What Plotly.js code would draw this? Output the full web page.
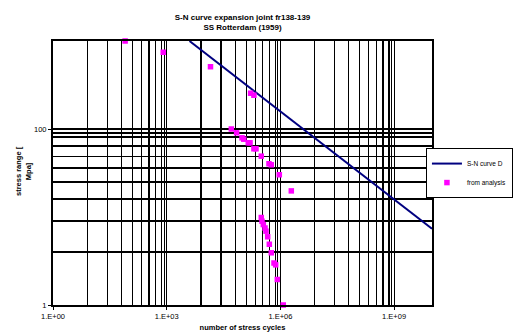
<!DOCTYPE html>
<html>
<head>
<meta charset="utf-8">
<script src="https://cdn.plot.ly/plotly-3.0.1.min.js"></script>
<style>
html,body{margin:0;padding:0;background:#fff;}
#chart{width:515px;height:332px;}
</style>
</head>
<body>
<div id="chart"></div>
<script>
// S-N curve D (BS class D, m = 3)
var snCycles = [3990, 1e10];
var snStress = [1000, 7.36];

// Points from analysis
var anCycles = [80, 810, 14300, 164000, 200000, 50700, 70000, 97000, 108000, 142000,
                158000, 200000, 227000, 313000, 500000, 575000, 936000, 1940000, 313000, 327000,
                354000, 393000, 417000, 462000, 510000, 575000, 678000, 750000, 828000, 1190000];
var anStress = [1000, 745, 510, 255, 242, 100, 90.5, 79.4, 76.6, 69.7,
                69.7, 59.6, 59.6, 49.1, 40.3, 39.2, 30.2, 19.8, 9.87, 8.96,
                8.2, 7.5, 6.9, 5.96, 4.9, 3.92, 3.0, 2.86, 1.95, 1.0];

var xMajor = [1, 1e3, 1e6, 1e9];
var xMajorText = ['1.E+00', '1.E+03', '1.E+06', '1.E+09'];
var yMajor = [1, 100];
var yMajorText = ['1', '100'];

// Excel-style gridlines: majors plus subdivisions inside each complete major interval
var subSteps = [2, 3, 4, 5, 6, 7, 8, 9, 9.5];
var xGridVals = [], xGridText = [];
xMajor.forEach(function (b, i) {
  xGridVals.push(b); xGridText.push(xMajorText[i]);
  if (i < xMajor.length - 1) {
    subSteps.forEach(function (k) { xGridVals.push(b * Math.pow(k, 3)); xGridText.push(''); });
  }
});
var yGridVals = [], yGridText = [];
yMajor.forEach(function (b, i) {
  yGridVals.push(b); yGridText.push(yMajorText[i]);
  if (i < yMajor.length - 1) {
    subSteps.forEach(function (k) { yGridVals.push(b * Math.pow(k, 2)); yGridText.push(''); });
  }
});

var FONT = 'Arial, "Liberation Sans", sans-serif';

var traces = [
  {
    x: snCycles, y: snStress, type: 'scatter', mode: 'lines',
    name: 'S-N curve D',
    line: {color: '#000080', width: 2},
    cliponaxis: false
  },
  {
    x: anCycles, y: anStress, type: 'scatter', mode: 'markers',
    name: 'from analysis',
    marker: {symbol: 'square', size: 5.5, color: '#FF00FF', line: {width: 0}},
    cliponaxis: false
  }
];

var axisCommon = {
  type: 'log',
  showline: true, linecolor: '#000', linewidth: 2, mirror: true,
  showgrid: true, gridcolor: '#000', gridwidth: 1.2,
  ticks: '',
  tickmode: 'array',
  zeroline: false,
  automargin: false,
  ticklabelstandoff: 3,
  tickfont: {family: FONT, size: 7.5, color: '#000'}
};

var layout = {
  width: 515, height: 332,
  margin: {l: 53, r: 83, t: 41, b: 27, autoexpand: false},
  paper_bgcolor: '#fff', plot_bgcolor: '#fff',
  showlegend: true,
  title: {
    text: '<b>S-N curve expansion joint fr138-139<br>SS Rotterdam (1959)</b>',
    font: {family: FONT, size: 8, color: '#000'},
    x: 0.5, xref: 'paper', xanchor: 'center',
    y: 0.941, yref: 'container', yanchor: 'middle'
  },
  xaxis: Object.assign({}, axisCommon, {
    range: [0, 10],
    tickvals: xGridVals, ticktext: xGridText,
    minor: {tickmode: 'array', tickvals: xMajor, ticks: 'outside', ticklen: 3, tickwidth: 1, tickcolor: '#000', showgrid: false},
    title: {text: '<b>number of stress cycles</b>', font: {family: FONT, size: 7.5, color: '#000'}}
  }),
  yaxis: Object.assign({}, axisCommon, {
    range: [0, 3],
    tickvals: yGridVals, ticktext: yGridText,
    minor: {tickmode: 'array', tickvals: yMajor, ticks: 'outside', ticklen: 3, tickwidth: 1, tickcolor: '#000', showgrid: false}
  }),
  annotations: [{
    text: '<b>stress range [<br>Mpa]</b>',
    textangle: -90,
    xref: 'paper', x: -0.0778, xanchor: 'center',
    yref: 'paper', y: 0.5057, yanchor: 'middle',
    showarrow: false,
    font: {family: FONT, size: 7.5, color: '#000'}
  }],
  legend: {
    x: 0.996, xanchor: 'right', xref: 'container',
    y: 0.554, yanchor: 'top', yref: 'container',
    bgcolor: '#fff', bordercolor: '#000', borderwidth: 1,
    font: {family: FONT, size: 6.5, color: '#000'},
    itemwidth: 30,
    tracegroupgap: 0
  }
};

Plotly.newPlot('chart', traces, layout, {displayModeBar: false, staticPlot: true});
</script>
</body>
</html>
